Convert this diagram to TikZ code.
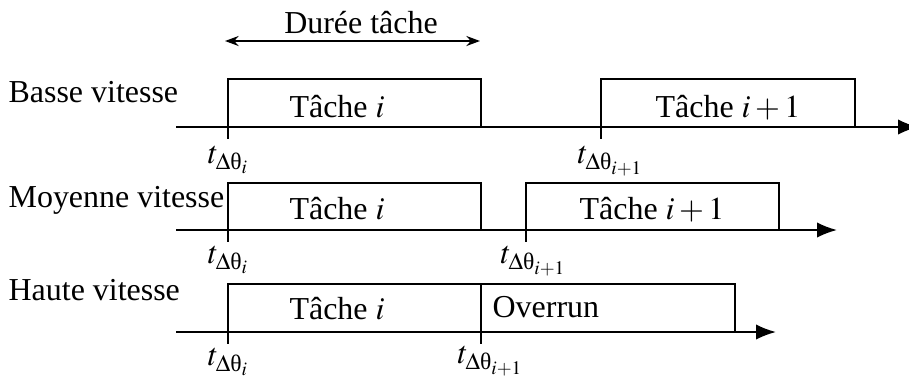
\documentclass[tikz,border=0pt]{standalone}
\usepackage{amsmath}
\usepackage{mathptmx}
\usepackage{fontspec}
\setmainfont{Liberation Serif}
\usetikzlibrary{arrows.meta}

\newcommand{\uptheta}{\text{θ}}

\tikzset{
  task/.style={draw, line width=0.6pt},
  axis/.style={line width=0.6pt, -{Latex[length=2.2mm, width=1.7mm]}},
  tick/.style={line width=0.6pt},
  tlabel/.style={anchor=north, inner sep=0pt},
  txt/.style={anchor=base, inner sep=0pt},
}

\begin{document}
\begin{tikzpicture}[x=0.11mm, y=-0.11mm, >=Stealth]
\useasboundingbox (0,0) rectangle (909,376);

% duree de la tache
\coordinate (d1) at (225,41);
\coordinate (d2) at (480,41);
\draw[line width=0.6pt, {Stealth[length=1.5mm,width=1.1mm]}-{Stealth[length=1.5mm,width=1.1mm]}] (d1) -- (d2);
\node[txt] (duree) at (361,33) {Durée tâche};

% basse vitesse
\node[anchor=base west, inner sep=0pt] (basse) at (8,102) {Basse vitesse};
\draw[task] (228,127) rectangle (481,79);
\draw[task] (601,127) rectangle (855,79);
\node[txt] (bi) at (337,117) {Tâche $i$};
\node[txt] (bii) at (728,117) {Tâche $i+1$};
\coordinate (ba) at (176,127);
\coordinate (bb) at (918,127);
\draw[axis] (ba) -- (bb);
\draw[tick] (228,127) -- (228,139);
\draw[tick] (601,127) -- (601,139);
\node[tlabel] (bt1) at (229,146) {$t_{\Delta\uptheta_i}$};
\node[tlabel] (bt2) at (611,146) {$t_{\Delta\uptheta_{i+1}}$};

% moyenne vitesse
\node[anchor=base west, inner sep=0pt] (moyenne) at (8,207) {Moyenne vitesse};
\draw[task] (228,230) rectangle (481,183);
\draw[task] (526,230) rectangle (779,183);
\node[txt] (mi) at (337,219) {Tâche $i$};
\node[txt] (mii) at (652,219) {Tâche $i+1$};
\coordinate (ma) at (176,230);
\coordinate (mb) at (837,230);
\draw[axis] (ma) -- (mb);
\draw[tick] (228,230) -- (228,242);
\draw[tick] (526,230) -- (526,242);
\node[tlabel] (mt1) at (229,246) {$t_{\Delta\uptheta_i}$};
\node[tlabel] (mt2) at (534,246) {$t_{\Delta\uptheta_{i+1}}$};

% haute vitesse
\node[anchor=base west, inner sep=0pt] (haute) at (8,300) {Haute vitesse};
\draw[task] (228,332) rectangle (481,284);
\draw[task] (481,332) rectangle (735,284);
\node[txt] (hi) at (337,319) {Tâche $i$};
\node[anchor=base west, inner sep=0pt] (hover) at (492,317) {Overrun};
\coordinate (ha) at (176,332);
\coordinate (hb) at (776,332);
\draw[axis] (ha) -- (hb);
\draw[tick] (228,332) -- (228,344);
\draw[tick] (481,332) -- (481,344);
\node[tlabel] (ht1) at (229,348) {$t_{\Delta\uptheta_i}$};
\node[tlabel] (ht2) at (491,346) {$t_{\Delta\uptheta_{i+1}}$};

\end{tikzpicture}
\end{document}
